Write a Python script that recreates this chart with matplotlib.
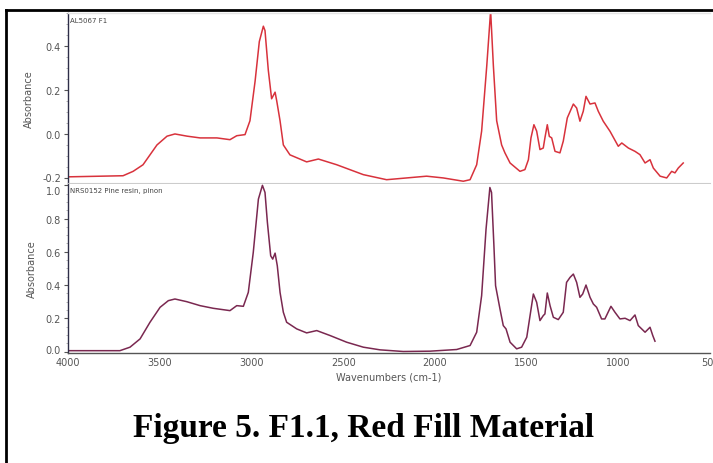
import numpy as np
import matplotlib
matplotlib.use("Agg")
import matplotlib.pyplot as plt
from matplotlib.lines import Line2D
from matplotlib.ticker import MultipleLocator
from matplotlib.transforms import ScaledTranslation

# ---- data ----
top_wn = [4000, 3700, 3645, 3591, 3515, 3460, 3417, 3351, 3280, 3188, 3117, 3080, 3035,
          3008, 2980, 2957, 2935, 2926, 2908, 2890, 2871, 2862, 2844, 2826, 2790, 2699,
          2635, 2535, 2390, 2263, 2154, 2045, 1954, 1845, 1808, 1772, 1745, 1717, 1696,
          1681, 1663, 1636, 1618, 1590, 1536, 1509, 1490, 1476, 1460, 1445, 1427, 1409,
          1400, 1387, 1376, 1363, 1345, 1318, 1300, 1278, 1245, 1227, 1209, 1191, 1176,
          1154, 1127, 1109, 1082, 1045, 1000, 981, 945, 909, 882, 854, 827, 809, 772,
          736, 709, 691, 673, 646]
top_abs = [-0.195, -0.19, -0.17, -0.14, -0.05, -0.01, 0.0, -0.01, -0.018, -0.018, -0.026,
           -0.008, -0.003, 0.06, 0.24, 0.42, 0.49, 0.47, 0.29, 0.16, 0.19, 0.15, 0.06,
           -0.05, -0.095, -0.127, -0.114, -0.14, -0.185, -0.208, -0.2, -0.192, -0.2,
           -0.215, -0.208, -0.14, 0.013, 0.31, 0.56, 0.31, 0.06, -0.05, -0.086, -0.132,
           -0.17, -0.162, -0.117, -0.018, 0.042, 0.013, -0.071, -0.064, -0.018, 0.042,
           -0.011, -0.018, -0.079, -0.086, -0.033, 0.073, 0.136, 0.118, 0.058, 0.103,
           0.171, 0.136, 0.141, 0.103, 0.058, 0.012, -0.056, -0.041, -0.064, -0.079,
           -0.094, -0.132, -0.117, -0.155, -0.192, -0.2, -0.17, -0.177, -0.155, -0.132]

bot_wn = [4000, 3717, 3662, 3607, 3553, 3498, 3453, 3417, 3353, 3280, 3208, 3117, 3080,
          3044, 3017, 2990, 2962, 2940, 2926, 2913, 2895, 2884, 2871, 2859, 2844, 2826,
          2808, 2753, 2699, 2644, 2571, 2481, 2390, 2299, 2172, 2026, 1881, 1808, 1772,
          1745, 1721, 1700, 1691, 1678, 1669, 1645, 1627, 1612, 1590, 1554, 1527, 1499,
          1481, 1463, 1445, 1427, 1409, 1400, 1387, 1372, 1354, 1327, 1300, 1282, 1263,
          1245, 1227, 1209, 1194, 1176, 1154, 1136, 1118, 1091, 1073, 1040, 1018, 991,
          963, 936, 909, 891, 854, 827, 812, 800]
bot_abs = [0.005, 0.005, 0.026, 0.076, 0.176, 0.266, 0.306, 0.316, 0.30, 0.276, 0.26,
           0.246, 0.276, 0.272, 0.356, 0.596, 0.917, 1.0, 0.957, 0.777, 0.576, 0.556,
           0.592, 0.516, 0.356, 0.236, 0.176, 0.136, 0.112, 0.126, 0.096, 0.056, 0.026,
           0.01, 0.0, 0.002, 0.012, 0.036, 0.116, 0.336, 0.736, 0.987, 0.957, 0.636,
           0.396, 0.256, 0.156, 0.136, 0.056, 0.016, 0.026, 0.086, 0.216, 0.346, 0.296,
           0.186, 0.216, 0.226, 0.352, 0.276, 0.206, 0.192, 0.236, 0.416, 0.446, 0.466,
           0.416, 0.326, 0.346, 0.40, 0.326, 0.286, 0.266, 0.196, 0.196, 0.272, 0.236,
           0.196, 0.20, 0.186, 0.22, 0.156, 0.116, 0.146, 0.096, 0.062]

top_ticks = [0.4, 0.2, 0.0, -0.2]
bot_ticks = [0.0, 0.2, 0.4, 0.6, 0.8, 1.0]
x_ticks = [4000, 3500, 3000, 2500, 2000, 1500, 1000, 500]
top_label = "AL5067 F1"
bot_label = "NRS0152 Pine resin, pinon"
title = "Figure 5. F1.1, Red Fill Material"

W, H = 713, 464
fig = plt.figure(figsize=(W / 100, H / 100), dpi=100)
fig.patch.set_facecolor("white")

def box(x0, y0, x1, y1):
    return [x0 / W, 1 - y1 / H, (x1 - x0) / W, (y1 - y0) / H]

tick_col = "#555555"
spine_col = "#2e2e48"

ax1 = fig.add_axes(box(68, 14, 710, 184))
ax2 = fig.add_axes(box(68, 185, 710, 354))

for ax in (ax1, ax2):
    ax.set_xlim(4000, 500)
    ax.spines["right"].set_visible(False)
    ax.spines["left"].set_color(spine_col)
    ax.spines["left"].set_linewidth(1.0)
    ax.tick_params(axis="y", direction="out", length=3, width=0.8, colors=tick_col,
                   labelsize=7, pad=2)
    ax.tick_params(axis="y", which="minor", direction="out", length=1.5, width=0.5,
                   colors="#999999")
    ax.set_ylabel("Absorbance", fontsize=7, color=tick_col, labelpad=6)

ax1.spines["top"].set_color("#e4e4e4")
ax1.spines["bottom"].set_color("#cccccc")
ax1.spines["top"].set_linewidth(1.0)
ax2.spines["top"].set_visible(False)
ax2.spines["bottom"].set_color("#555555")
ax2.spines["bottom"].set_linewidth(1.0)

ax1.plot(top_wn, top_abs, color="#d8323c", lw=1.1)
ax1.set_ylim(-0.223, 0.55)
ax1.set_yticks(top_ticks)
ax1.set_yticklabels([f"{v:.1f}" for v in top_ticks])
ax1.yaxis.set_minor_locator(MultipleLocator(0.05))
ax1.set_xticks([])

ax2.plot(bot_wn, bot_abs, color="#7a2850", lw=1.1)
ax2.set_ylim(-0.009, 1.008)
ax2.set_yticks(bot_ticks)
ax2.set_yticklabels([f"{v:.1f}" for v in bot_ticks])
ax2.yaxis.set_minor_locator(MultipleLocator(0.05))
ax2.set_xticks(x_ticks)
ax2.set_xticklabels([str(v) for v in x_ticks])
ax2.tick_params(axis="x", length=0, colors=tick_col, labelsize=7, pad=3)
ax2.set_xlabel("Wavenumbers (cm-1)", fontsize=7, color=tick_col, labelpad=3)

# shift edge tick labels inward like the reference
fig.canvas.draw()
labs2 = ax2.get_yticklabels()
labs2[-1].set_transform(labs2[-1].get_transform() + ScaledTranslation(0, -5 / 100, fig.dpi_scale_trans))
labs2[0].set_transform(labs2[0].get_transform() + ScaledTranslation(0, 3 / 100, fig.dpi_scale_trans))
labs1 = ax1.get_yticklabels()
labs1[-1].set_transform(labs1[-1].get_transform() + ScaledTranslation(0, 1 / 100, fig.dpi_scale_trans))

ax1.text(0.003, 0.96, top_label, transform=ax1.transAxes, fontsize=5, color="#444444",
         va="center", ha="left")
ax2.text(0.003, 0.965, bot_label, transform=ax2.transAxes, fontsize=5, color="#444444",
         va="center", ha="left")

fig.text(364 / W, 1 - 429 / H, title, fontsize=24, fontweight="bold",
         family="Liberation Serif", ha="center", va="center", color="black")

# figure frame (left and top border lines)
fig.add_artist(Line2D([6 / W, 6 / W], [0, 1 - 11 / H], color="black", lw=2.0,
                      transform=fig.transFigure))
fig.add_artist(Line2D([6 / W, 1.0], [1 - 11 / H, 1 - 11 / H], color="black", lw=2.0,
                      transform=fig.transFigure))

fig.savefig("out.png", dpi=100)
